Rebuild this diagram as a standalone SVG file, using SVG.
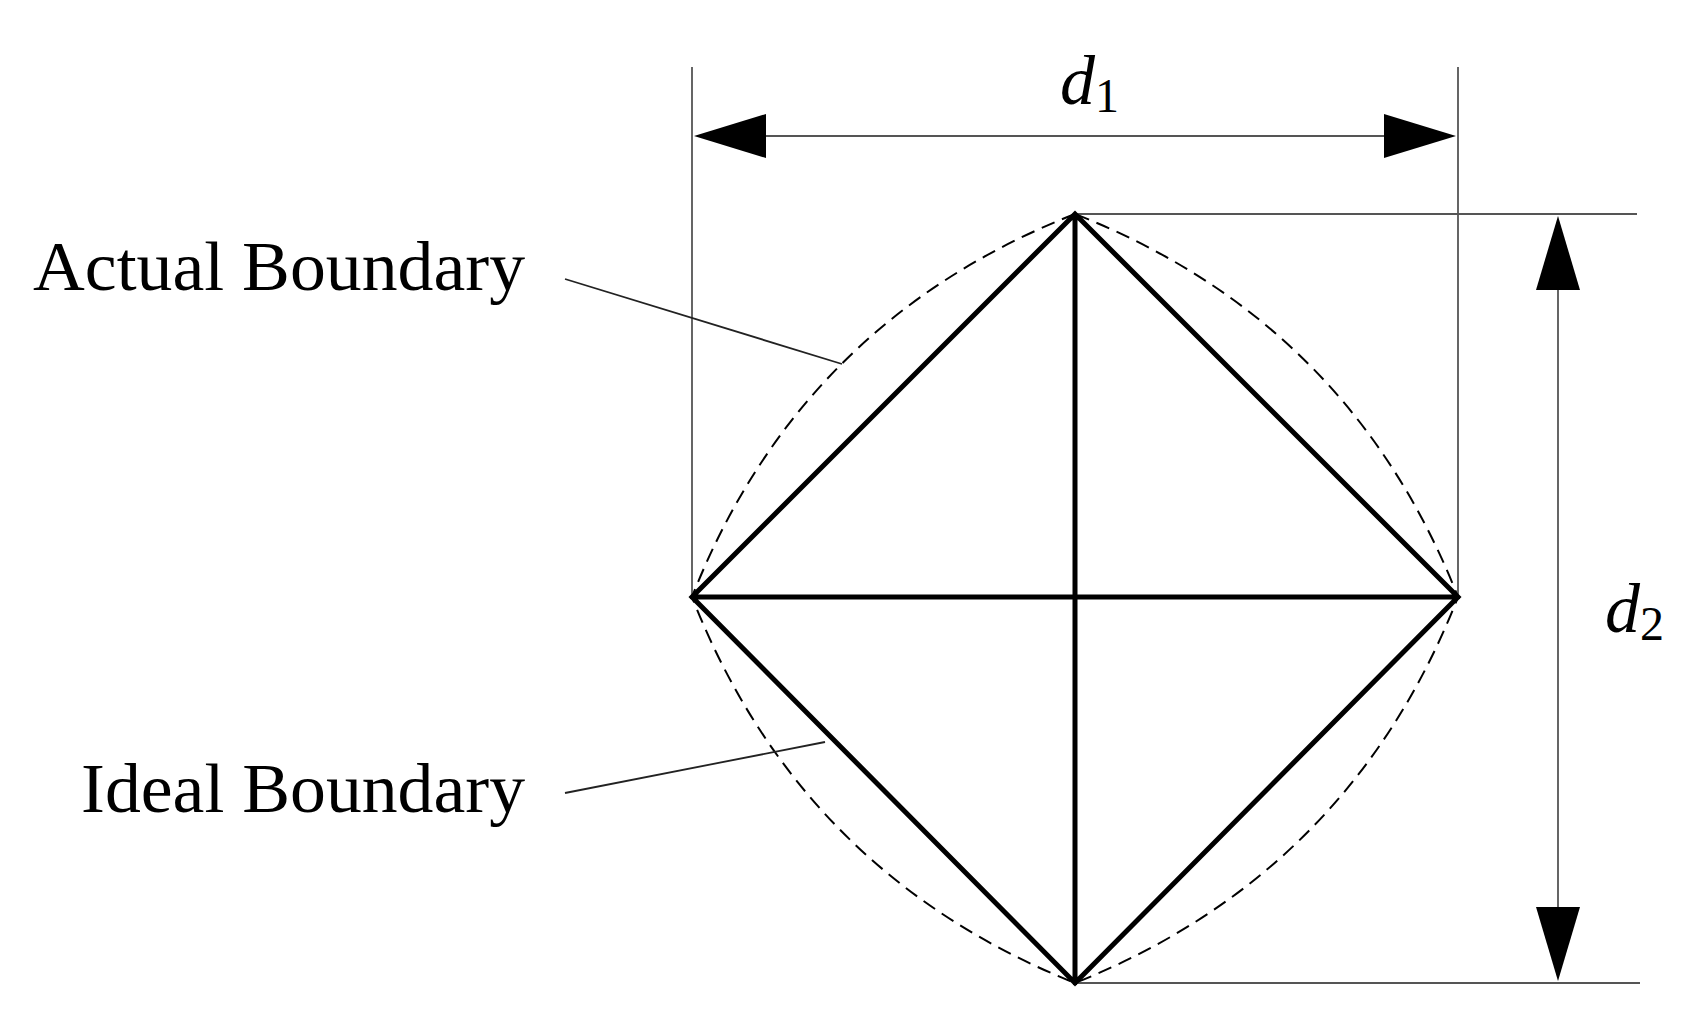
<svg xmlns="http://www.w3.org/2000/svg" width="1694" height="1016" viewBox="0 0 1694 1016">
<style>
.thin{stroke:#555;stroke-width:1.8;fill:none}
.thick{stroke:#000;stroke-width:5;fill:none;stroke-linecap:round}
.dash{stroke:#000;stroke-width:2;fill:none;stroke-dasharray:14 8}
.lbl{font-family:"Liberation Serif",serif;font-size:70px;fill:#000}
</style>
<rect width="1694" height="1016" fill="#fff"/>
<g id="dimensions">
<line class="thin" x1="692" y1="67" x2="692" y2="597"/>
<line class="thin" x1="1458" y1="67" x2="1458" y2="597"/>
<line class="thin" x1="760" y1="136" x2="1390" y2="136"/>
<polygon points="694,136 766,114 766,158" fill="#000"/>
<polygon points="1456,136 1384,114 1384,158" fill="#000"/>
<line class="thin" x1="1075" y1="214" x2="1637" y2="214"/>
<line class="thin" x1="1075" y1="983" x2="1640" y2="983"/>
<line class="thin" x1="1558" y1="285" x2="1558" y2="912"/>
<polygon points="1558,216 1536,290 1580,290" fill="#000"/>
<polygon points="1558,981 1536,907 1580,907" fill="#000"/>
<text class="lbl" x="1060" y="104" font-style="italic">d<tspan font-style="normal" font-size="48" dy="8">1</tspan></text>
<text class="lbl" x="1605" y="632" font-style="italic">d<tspan font-style="normal" font-size="48" dy="8">2</tspan></text>
</g>
<g id="boundaries">
<path class="dash" d="M1075,214 Q800,322 692,597 Q800,873 1075,983 Q1350,873 1458,597 Q1350,322 1075,214Z"/>
<path class="thick" d="M1075,214 L692,597 L1075,983 L1458,597 Z M692,597 L1458,597 M1075,214 L1075,983"/>
</g>
<g id="labels">
<line x1="565" y1="279" x2="842" y2="364" stroke="#222" stroke-width="1.8"/>
<line x1="565" y1="793" x2="825" y2="742" stroke="#222" stroke-width="1.8"/>
<text class="lbl" x="33" y="290" textLength="492" lengthAdjust="spacingAndGlyphs">Actual Boundary</text>
<text class="lbl" x="81" y="812" textLength="444" lengthAdjust="spacingAndGlyphs">Ideal Boundary</text>
</g>
</svg>
